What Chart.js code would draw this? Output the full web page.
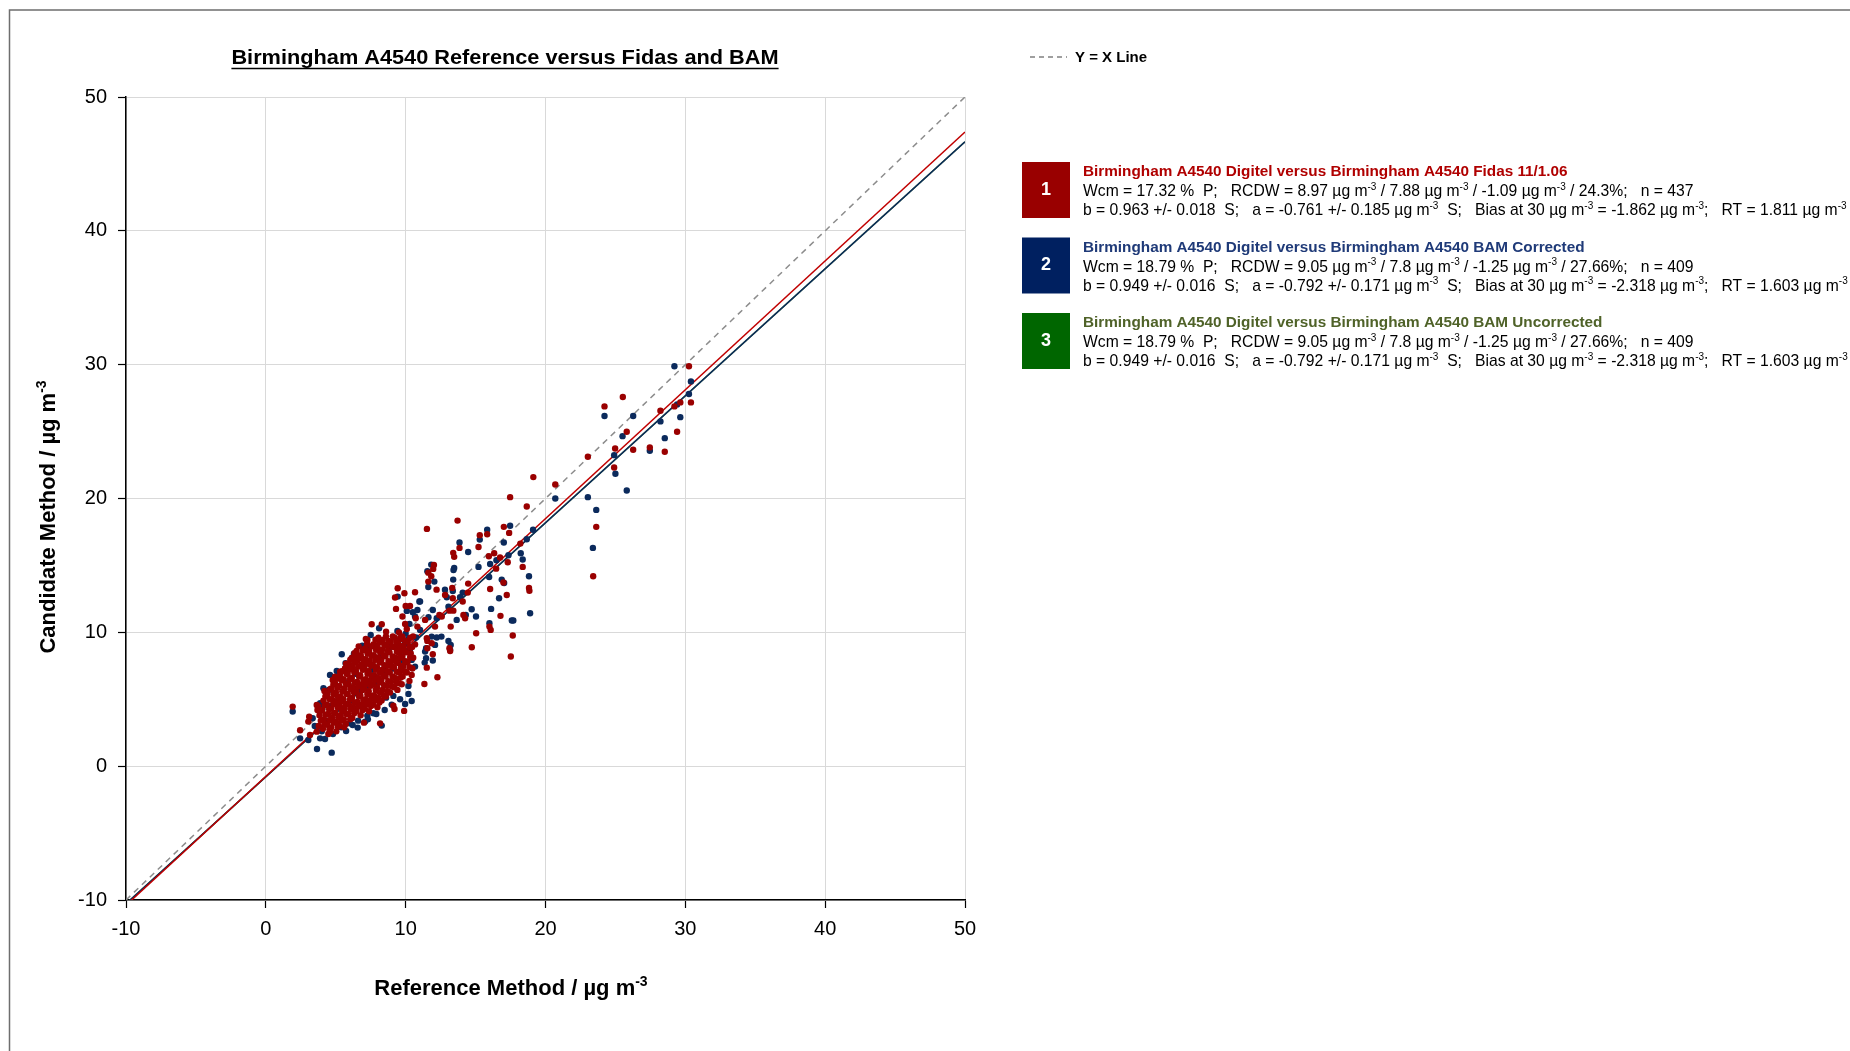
<!DOCTYPE html>
<html>
<head>
<meta charset="utf-8">
<title>Birmingham A4540 Reference versus Fidas and BAM</title>
<script src="https://cdn.jsdelivr.net/npm/chart.js@4.4.1/dist/chart.umd.min.js"></script>
<style>
  html, body { margin: 0; padding: 0; background: #fff; }
  #wrap { width: 1850px; height: 1051px; position: relative; overflow: hidden; }
</style>
</head>
<body>
<div id="wrap"><canvas id="scatterChart" width="1850" height="1051"></canvas></div>
<script>
// Axis ticks
const axisTicks = [-10, 0, 10, 20, 30, 40, 50];

// Digitel (reference) vs Fidas 11/1.06 pairs: [reference, candidate]
const fidasPoints = [
  // upper range
  [30.26,29.88],[25.53,27.58],[24.22,26.88],[28.22,26.56],[29.22,26.88],[29.64,27.18],[30.40,27.18],
  [25.81,24.99],[29.41,24.99],[27.46,23.82],[28.53,23.49],[26.27,23.64],[24.98,23.74],[23.03,23.12],
  [24.91,22.32],[20.70,21.05],[19.13,21.6],[17.47,20.1],[18.66,19.40],[23.63,17.88],[17.40,17.43],
  [17.02,17.88],[15.83,17.33],[15.30,17.26],[13.71,18.35],[11.52,17.73],[23.41,14.19],
  // 11 - 19 ug
  [13.85,16.31],[15.21,16.38],[13.40,15.94],[13.47,15.64],[13.33,13.32],[14.47,13.64],[16.04,13.24],
  [15.95,15.69],[16.33,15.91],[16.47,14.76],[16.75,15.59],[17.30,15.24],[16.99,13.72],[17.23,12.79],
  [18.37,14.89],[18.82,13.32],[18.85,13.1],[18.20,16.63],[16.78,11.23],[11.97,14.74],[12.02,15.04],
  [11.62,13.79],[12.21,13.19],[12.82,12.79],[14.44,12.97],[13.37,12.55],[14.08,12.3],[13.13,11.62],
  [13.41,11.62],[14.13,11.3],[14.25,11.05],[12.41,11.3],[12.58,11.18],[11.39,10.93],[11.83,14.19],
  [11.62,14.46],
  [12.1,10.43],[13.22,10.43],[15.99,10.43],[16.08,10.18],[15.04,9.93],[17.66,9.76],[11.51,9.56],
  [11.55,9.36],[13.13,8.81],[13.18,8.61],[11.86,9.18],[11.55,8.81],[14.73,8.88],[17.52,8.19],
  [11.94,8.36],[11.51,7.36],[12.27,6.64],[11.34,6.14],
  [9.43,13.29],[9.24,12.6],[9.91,12.92],[10.67,13.0],[10.0,11.97],[10.31,11.97],[9.31,11.75],
  [9.77,11.18],[10.72,11.05],[9.96,10.63],[8.29,10.6],[7.57,10.6],
  // edges of the main cluster
  [8.6,10.05],[10.08,10.25],[10.84,10.43],[10.67,9.1],[7.26,9.43],[7.76,9.06],[8.36,9.43],[9.36,8.86],
  [9.79,9.51],[10.36,8.44],[10.08,7.76],[10.43,6.82],[10.27,6.37],[9.72,6.12],[9.41,5.7],[9.12,4.52],
  [9.2,4.27],[9.89,4.13],[6.5,8.31],[6.86,8.06],[5.9,7.19],[5.31,7.06],[4.95,6.69],[4.78,6.44],
  [4.19,5.62],[4.35,5.32],[3.64,4.57],[3.69,4.2],[3.1,3.7],[3.04,3.33],[2.45,2.68],[3.16,2.33],
  [1.92,4.45],[3.64,2.58],[4.59,2.58],[7.02,3.25],[8.17,3.2],
  // core of the cluster
  [3.78,3.0],[3.84,3.8],[3.72,4.5],
  [4.08,2.8],[4.15,3.5],[4.03,4.2],[4.12,4.9],
  [4.38,3.1],[4.45,3.9],[4.36,4.6],[4.42,5.4],[4.47,2.4],
  [4.68,2.9],[4.74,3.6],[4.66,4.3],[4.73,5.0],[4.69,5.8],
  [5.02,3.3],[4.97,4.0],[5.06,4.8],[5.01,5.5],[4.95,6.2],[5.04,2.6],
  [5.28,3.0],[5.35,3.8],[5.27,4.5],[5.33,5.2],[5.26,6.0],[5.31,6.8],
  [5.58,3.5],[5.64,4.3],[5.55,5.0],[5.62,5.8],[5.57,6.5],[5.66,7.3],[5.6,2.9],
  [5.88,3.9],[5.94,4.6],[5.86,5.4],[5.92,6.1],[5.85,6.9],[5.95,7.6],
  [6.18,3.6],[6.24,4.4],[6.16,5.1],[6.23,5.9],[6.15,6.6],[6.22,7.4],[6.17,8.1],
  [6.48,4.1],[6.54,4.8],[6.46,5.6],[6.53,6.3],[6.45,7.1],[6.52,7.9],[6.49,8.6],
  [6.78,3.8],[6.84,4.6],[6.76,5.3],[6.83,6.1],[6.75,6.8],[6.82,7.6],[6.79,8.3],
  [7.08,4.3],[7.14,5.0],[7.06,5.8],[7.13,6.5],[7.05,7.3],[7.12,8.0],[7.09,8.8],[7.15,9.5],
  [7.38,4.1],[7.44,4.9],[7.36,5.6],[7.43,6.4],[7.35,7.1],[7.42,7.9],[7.39,8.6],
  [7.68,4.6],[7.74,5.3],[7.66,6.1],[7.73,6.8],[7.65,7.6],[7.72,8.3],[7.69,9.1],
  [7.98,4.4],[8.04,5.1],[7.96,5.9],[8.03,6.6],[7.95,7.4],[8.02,8.1],[7.99,8.9],[8.05,9.6],
  [8.28,4.9],[8.34,5.7],[8.26,6.4],[8.33,7.2],[8.25,7.9],[8.32,8.7],
  [8.58,5.2],[8.64,6.0],[8.56,6.7],[8.63,7.5],[8.55,8.2],[8.62,9.0],[8.59,9.7],
  [8.88,5.5],[8.94,6.3],[8.86,7.0],[8.93,7.8],[8.85,8.5],[8.92,9.3],
  [9.18,5.9],[9.24,6.6],[9.16,7.4],[9.23,8.1],[9.15,8.9],[9.22,9.6],
  [9.48,6.2],[9.54,7.0],[9.46,7.7],[9.53,8.5],[9.45,9.2],[9.52,10.0],
  [9.78,6.7],[9.84,7.5],[9.76,8.2],[9.83,9.0],[9.75,9.7],
  [10.08,7.0],[10.14,7.8],[10.06,8.5],[10.13,9.3],
  [10.48,7.3],[10.54,8.1],[10.46,8.9],[10.53,9.7],
  // core, in-between rows
  [3.93,3.4],[3.88,4.1],
  [4.24,3.15],[4.27,3.85],[4.21,4.55],[4.26,5.2],
  [4.55,2.75],[4.58,3.45],[4.53,4.25],[4.57,5.0],[4.6,5.75],
  [4.84,3.25],[4.88,3.95],[4.82,4.65],[4.86,5.4],[4.83,6.1],
  [5.15,2.95],[5.18,3.65],[5.13,4.4],[5.17,5.15],[5.12,5.85],[5.19,6.55],
  [5.42,3.4],[5.46,4.15],[5.41,4.85],[5.47,5.6],[5.43,6.4],[5.45,7.1],
  [5.72,3.15],[5.76,3.9],[5.71,4.65],[5.77,5.4],[5.73,6.15],[5.78,6.9],[5.74,7.65],
  [6.03,3.5],[6.07,4.25],[6.02,5.0],[6.06,5.75],[6.01,6.5],[6.08,7.25],[6.04,7.95],
  [6.32,3.95],[6.36,4.75],[6.31,5.5],[6.37,6.25],[6.33,7.0],[6.38,7.75],[6.34,8.45],
  [6.62,4.45],[6.66,5.2],[6.61,5.95],[6.67,6.7],[6.63,7.45],[6.68,8.2],[6.64,8.95],
  [6.93,4.2],[6.97,4.95],[6.92,5.7],[6.98,6.45],[6.94,7.2],[6.99,7.95],[6.95,8.65],
  [7.22,4.65],[7.26,5.4],[7.21,6.15],[7.27,6.9],[7.23,7.65],[7.28,8.4],[7.24,9.15],
  [7.52,4.5],[7.56,5.25],[7.51,6.0],[7.57,6.75],[7.53,7.5],[7.58,8.25],[7.54,8.95],
  [7.82,4.95],[7.86,5.7],[7.81,6.45],[7.87,7.2],[7.83,7.95],[7.88,8.7],[7.84,9.45],
  [8.12,4.75],[8.16,5.5],[8.11,6.25],[8.17,7.0],[8.13,7.75],[8.18,8.5],[8.14,9.25],
  [8.42,5.3],[8.46,6.05],[8.41,6.8],[8.47,7.55],[8.43,8.3],[8.48,9.05],
  [8.72,5.6],[8.76,6.35],[8.71,7.1],[8.77,7.85],[8.73,8.6],[8.78,9.35],
  [9.02,5.95],[9.06,6.7],[9.01,7.45],[9.07,8.2],[9.03,8.95],[9.08,9.7],
  [9.32,6.3],[9.36,7.05],[9.31,7.8],[9.37,8.55],[9.33,9.3],
  [9.62,6.6],[9.66,7.35],[9.61,8.1],[9.67,8.85],[9.63,9.6],
  [9.93,7.1],[9.97,7.85],[9.92,8.6],[9.98,9.35],
  [10.28,7.4],[10.32,8.15],[10.27,8.9],[10.33,9.6]
];

// Digitel (reference) vs BAM corrected pairs: [reference, candidate]
const bamPoints = [
  // upper range
  [29.22,29.88],[30.40,28.75],[30.26,27.81],[29.41,27.03],[29.64,26.08],[24.22,26.16],[26.27,26.16],
  [28.22,25.76],[25.51,24.66],[28.53,24.51],[27.46,23.57],[24.91,23.24],[25.0,21.85],[25.81,20.6],
  [20.70,20.0],[23.03,20.1],[23.63,19.15],[19.11,17.66],[17.47,17.96],[15.83,17.66],[23.39,16.31],
  // 11 - 19 ug
  [17.02,16.71],[13.85,16.71],[14.47,16.0],[15.30,16.93],[13.47,14.81],[13.42,14.66],[13.40,13.94],
  [15.21,14.89],[15.97,14.14],[16.04,15.11],[16.49,15.39],[17.35,15.76],[16.87,13.94],[17.04,13.69],
  [16.68,12.55],[18.23,15.91],[18.37,15.44],[18.82,14.19],[18.66,16.96],[18.9,11.43],[16.11,11.75],
  [15.03,11.18],[14.72,11.72],[17.59,10.88],[17.7,10.88],[15.99,10.68],[11.55,14.56],[11.83,15.06],
  [11.62,13.39],[12.05,13.79],[12.81,13.19],[13.37,13.09],[14.08,12.97],[13.89,12.62],[12.94,12.62],
  [11.94,11.67],[13.06,11.92],[14.3,11.3],[13.65,10.93],[12.22,11.05],[11.63,11.13],[11.03,12.3],
  [12.56,9.68],[12.22,9.61],[11.86,9.68],[13.06,9.36],[13.22,9.06],[13.18,8.69],[12.1,9.06],
  [11.46,8.81],[11.39,8.56],[11.46,8.06],[11.36,7.74],[11.94,7.89],[11.03,10.18],
  [9.43,12.67],[10.98,12.3],[10.08,11.6],[10.51,11.5],[10.84,11.67],[10.67,11.18],[10.27,10.63],
  // edges of the main cluster
  [9.41,10.1],[10.2,9.5],[10.74,9.61],[7.26,8.76],[8.84,9.01],[9.48,9.36],[9.96,9.18],[10.43,7.94],
  [10.67,7.44],[10.2,5.99],[9.12,5.25],[9.96,4.65],[10.43,4.87],[8.6,5.12],[5.43,8.36],[6.14,8.06],
  [5.98,7.56],[5.67,7.26],[5.07,7.11],[4.59,6.82],[4.12,5.82],[3.88,4.7],[3.35,3.58],[2.45,2.08],
  [3.04,1.96],[1.92,4.08],[3.66,1.28],[4.71,1.01],[3.88,2.08],[4.23,2.03],[5.74,2.63],[6.57,2.88],
  [6.21,3.08],[7.26,3.78],[7.69,3.95],[7.1,3.33],[8.29,3.03],
  // core of the cluster
  [4.3,3.4],[4.6,4.5],[4.9,3.3],[5.2,5.0],[5.5,4.1],[5.8,6.2],[6.1,4.9],[6.4,6.9],[6.7,5.6],[7.0,7.6],
  [7.3,6.0],[7.6,7.2],[7.9,6.3],[8.2,8.2],[8.5,6.9],[8.8,8.8],[9.1,7.3],[9.4,9.1],[9.7,7.9],[10.0,9.9],
  [10.3,8.6],[4.0,2.6],[4.8,2.4],[5.4,2.9],[6.0,3.2],[6.6,3.4],[7.3,3.5],[7.9,3.9],[8.5,4.2],[9.0,4.6],
  [9.6,5.0],[10.2,5.4],[3.5,3.0],[3.9,4.4],[4.5,5.7],[5.1,6.6],[5.7,7.7],[6.3,8.4],[6.9,9.0],[7.5,9.8],
  [8.1,10.3]
];

// Orthogonal regression results: slope b, intercept a
const seriesNames = [
  'Birmingham A4540 Digitel versus Birmingham A4540 Fidas 11/1.06',
  'Birmingham A4540 Digitel versus Birmingham A4540 BAM Corrected',
  'Birmingham A4540 Digitel versus Birmingham A4540 BAM Uncorrected'
];
const slopes = [0.963, 0.949, 0.949];
const intercepts = [-0.761, -0.792, -0.792];
const statLines = [
  ['Wcm = 17.32 %  P;   RCDW = 8.97 µg m{-3} / 7.88 µg m{-3} / -1.09 µg m{-3} / 24.3%;   n = 437',
   'b = 0.963 +/- 0.018  S;   a = -0.761 +/- 0.185 µg m{-3}  S;   Bias at 30 µg m{-3} = -1.862 µg m{-3};   RT = 1.811 µg m{-3}'],
  ['Wcm = 18.79 %  P;   RCDW = 9.05 µg m{-3} / 7.8 µg m{-3} / -1.25 µg m{-3} / 27.66%;   n = 409',
   'b = 0.949 +/- 0.016  S;   a = -0.792 +/- 0.171 µg m{-3}  S;   Bias at 30 µg m{-3} = -2.318 µg m{-3};   RT = 1.603 µg m{-3}'],
  ['Wcm = 18.79 %  P;   RCDW = 9.05 µg m{-3} / 7.8 µg m{-3} / -1.25 µg m{-3} / 27.66%;   n = 409',
   'b = 0.949 +/- 0.016  S;   a = -0.792 +/- 0.171 µg m{-3}  S;   Bias at 30 µg m{-3} = -2.318 µg m{-3};   RT = 1.603 µg m{-3}']
];

const boxColors = ['#990000', '#002060', '#006600'];
const nameColors = ['#b00000', '#1f3a78', '#4f6228'];
const lineColors = ['#c00000', '#0b2a5c', '#2e6b1e'];
const pointColors = ['#9a0000', '#0b2a5c'];

const FONT = '"Liberation Sans", Arial, Helvetica, sans-serif';

function toXY(pairs) {
    return pairs.map(p => ({ x: p[0], y: p[1] }));
}

function fitLine(i) {
    const lo = axisTicks[0];
    const hi = axisTicks[axisTicks.length - 1];
    return [
        { x: lo, y: slopes[i] * lo + intercepts[i] },
        { x: hi, y: slopes[i] * hi + intercepts[i] }
    ];
}

// Text with {..} parts drawn as superscript
function drawRich(ctx, text, x, y, size, weight, color, align) {
    const supSize = Math.round(size * 0.64);
    const parts = text.split(/(\{[^}]*\})/).filter(p => p.length);
    let total = 0;
    const segs = parts.map(p => {
        const sup = p[0] === '{';
        const s = sup ? p.slice(1, -1) : p;
        ctx.font = `${weight} ${sup ? supSize : size}px ${FONT}`;
        const w = ctx.measureText(s).width;
        total += w;
        return { s, sup, w };
    });
    let cx = align === 'center' ? x - total / 2 : x;
    ctx.fillStyle = color;
    ctx.textAlign = 'left';
    ctx.textBaseline = 'alphabetic';
    segs.forEach(seg => {
        ctx.font = `${weight} ${seg.sup ? supSize : size}px ${FONT}`;
        ctx.fillText(seg.s, cx, seg.sup ? y - size * 0.4 : y);
        cx += seg.w;
    });
    return total;
}

const decorations = {
    id: 'decorations',
    beforeDraw(chart) {
        const ctx = chart.ctx;
        ctx.save();
        ctx.fillStyle = '#fff';
        ctx.fillRect(0, 0, chart.width, chart.height);
        // outer frame (top and left edges)
        ctx.strokeStyle = '#6e6e6e';
        ctx.lineWidth = 1.5;
        ctx.beginPath();
        ctx.moveTo(9.5, chart.height);
        ctx.lineTo(9.5, 10);
        ctx.lineTo(chart.width, 10);
        ctx.stroke();
        ctx.restore();
    },
    afterDraw(chart) {
        const ctx = chart.ctx;
        ctx.save();

        // chart title, underlined
        const title = 'Birmingham A4540 Reference versus Fidas and BAM';
        const stretch = 1.035;
        ctx.font = `bold 21px ${FONT}`;
        const tw = ctx.measureText(title).width * stretch;
        const tx = 505;
        ctx.save();
        ctx.translate(tx, 64);
        ctx.scale(stretch, 1);
        ctx.fillStyle = '#000';
        ctx.textAlign = 'center';
        ctx.textBaseline = 'alphabetic';
        ctx.fillText(title, 0, 0);
        ctx.restore();
        ctx.strokeStyle = '#000';
        ctx.lineWidth = 1.5;
        ctx.beginPath();
        ctx.moveTo(tx - tw / 2, 68.5);
        ctx.lineTo(tx + tw / 2, 68.5);
        ctx.stroke();

        // axis titles
        drawRich(ctx, 'Reference Method / µg m{-3}', 511, 995, 22, 'bold', '#000', 'center');
        ctx.save();
        ctx.translate(55, 517);
        ctx.rotate(-Math.PI / 2);
        drawRich(ctx, 'Candidate Method / µg m{-3}', 0, 0, 22, 'bold', '#000', 'center');
        ctx.restore();

        // Y = X key
        ctx.strokeStyle = '#808080';
        ctx.lineWidth = 1.5;
        ctx.setLineDash([5, 4]);
        ctx.beginPath();
        ctx.moveTo(1030, 57);
        ctx.lineTo(1067, 57);
        ctx.stroke();
        ctx.setLineDash([]);
        drawRich(ctx, 'Y = X Line', 1075, 62, 15, 'bold', '#000', 'left');

        // numbered series keys with statistics
        seriesNames.forEach((name, i) => {
            const top = 162 + i * 75.5;
            ctx.fillStyle = boxColors[i];
            ctx.fillRect(1022, top, 48, 56);
            ctx.fillStyle = '#fff';
            ctx.font = `bold 18px ${FONT}`;
            ctx.textAlign = 'center';
            ctx.textBaseline = 'middle';
            ctx.fillText(String(i + 1), 1046, top + 28);
            drawRich(ctx, name, 1083, top + 14, 15.3, 'bold', nameColors[i], 'left');
            drawRich(ctx, statLines[i][0], 1083, top + 34, 15.7, 'normal', '#000', 'left');
            drawRich(ctx, statLines[i][1], 1083, top + 53, 15.7, 'normal', '#000', 'left');
        });
        ctx.restore();
    }
};

function axisOptions(isX) {
    return {
        type: 'linear',
        min: axisTicks[0],
        max: axisTicks[axisTicks.length - 1],
        afterBuildTicks(scale) {
            scale.ticks = axisTicks.map(v => ({ value: v }));
        },
        afterFit(scale) {
            if (isX) scale.height = 151;
            else scale.width = 126;
        },
        ticks: {
            color: '#000',
            font: { family: FONT, size: 20 },
            padding: isX ? 9 : 11,
            maxRotation: 0,
            autoSkip: false
        },
        grid: {
            color: '#d9d9d9',
            lineWidth: 1,
            drawTicks: true,
            tickLength: 8,
            tickColor: '#000',
            tickWidth: 1.2
        },
        border: { color: '#000', width: 1.5 }
    };
}

function initializeChart() {
    const ctx = document.getElementById('scatterChart');
    if (!ctx) {
        console.error('Cannot find chart canvas element');
        return;
    }

    const lineSet = (i, label) => ({
        label: label,
        data: fitLine(i),
        showLine: true,
        borderColor: lineColors[i],
        borderWidth: 1.5,
        pointRadius: 0,
        fill: false
    });

    new Chart(ctx, {
        type: 'scatter',
        data: {
            datasets: [
                {
                    label: 'Fidas',
                    data: toXY(fidasPoints),
                    backgroundColor: pointColors[0],
                    borderWidth: 0,
                    pointRadius: 3.2
                },
                {
                    label: 'BAM Corrected',
                    data: toXY(bamPoints),
                    backgroundColor: pointColors[1],
                    borderWidth: 0,
                    pointRadius: 3.2
                },
                lineSet(0, 'Fidas fit'),
                lineSet(1, 'BAM Corrected fit'),
                lineSet(2, 'BAM Uncorrected fit'),
                {
                    label: 'Y = X Line',
                    data: [
                        { x: axisTicks[0], y: axisTicks[0] },
                        { x: axisTicks[axisTicks.length - 1], y: axisTicks[axisTicks.length - 1] }
                    ],
                    showLine: true,
                    borderColor: '#8c8c8c',
                    borderWidth: 1.5,
                    borderDash: [6, 5],
                    pointRadius: 0
                }
            ]
        },
        options: {
            responsive: false,
            animation: false,
            devicePixelRatio: 1,
            layout: { padding: { left: 0, top: 97, right: 885, bottom: 0 } },
            plugins: {
                legend: { display: false },
                title: { display: false },
                tooltip: { enabled: false }
            },
            scales: {
                x: axisOptions(true),
                y: axisOptions(false)
            }
        },
        plugins: [decorations]
    });
}

document.addEventListener('DOMContentLoaded', initializeChart);
</script>
</body>
</html>
